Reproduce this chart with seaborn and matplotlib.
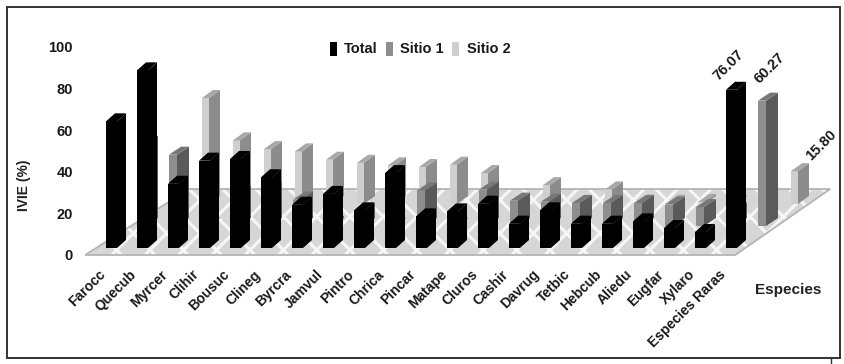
import matplotlib
matplotlib.use("Agg")
import matplotlib.pyplot as plt
import seaborn as sns
import pandas as pd
from matplotlib.patches import Polygon, Rectangle, Patch
from matplotlib.transforms import IdentityTransform, ScaledTranslation

especies = ["Farocc", "Quecub", "Myrcer", "Clihir", "Bousuc", "Clineg", "Byrcra",
            "Jamvul", "Pintro", "Chrica", "Pincar", "Matape", "Cluros", "Cashir",
            "Davrug", "Tetbic", "Hebcub", "Aliedu", "Eugfar", "Xylaro", "Especies Raras"]
total = [60.9, 85.4, 30.9, 42.0, 42.8, 34.0, 20.8, 26.0, 18.1, 36.0, 15.2, 17.6,
         21.3, 11.7, 18.1, 11.7, 11.7, 12.8, 9.6, 7.7, 76.07]
sitio1 = [39.5, 34.3, 0.3, 15.6, 17.5, 12.7, 1.0, 7.4, 0.3, 17.1, 0.3, 17.5,
          12.2, 11.7, 11.1, 11.1, 11.1, 10.3, 9.1, 7.5, 60.27]
sitio2 = [21.4, 51.0, 30.6, 26.4, 25.3, 21.3, 19.8, 18.6, 17.8, 18.9, 14.9, 0.1,
          9.1, 0.0, 7.0, 0.6, 0.6, 1.0, 0.5, 0.2, 15.80]
yticks = [0, 20, 40, 60, 80, 100]
ylabel = "IVIE (%)"
xlabel = "Especies"

# name, values, front colour, side colour, top colour, dx, dy, front w, side w, label dx, label dy
rows = [
    ("Sitio 2", sitio2, "#cfcfcf", "#8c8c8c", "#a8a8a8", 65, 51, 7, 11, 22, 8),
    ("Sitio 1", sitio1, "#8e8e8e", "#5a5a5a", "#777777", 32, 29, 8, 12, 4, 15),
    ("Total", total, "#000000", "#000000", "#000000", 0, 7, 11, 9, -6, 7),
]

W, H = 844, 364
plt.rcParams["font.family"] = ["Liberation Sans", "DejaVu Sans"]
plt.rcParams["hatch.linewidth"] = 2.2
fig = plt.figure(figsize=(W / 100, H / 100), dpi=100)
ax = fig.add_axes([111.5 / W - 31 * 0.88 / W, (H - 255) / H, 31 * 21.0 / W, 208 / H])

df = pd.DataFrame({"especie": especies, "Total": total, "Sitio 1": sitio1, "Sitio 2": sitio2})


def px(x, y):
    return ax.transData.transform((x, y))


def add_poly(points, **kw):
    p = Polygon(points, closed=True, transform=IdentityTransform(), clip_on=False, **kw)
    ax.add_patch(p)
    return p


for k, (name, vals, front, side, top, dx, dy, fw, sw, lx, ly) in enumerate(rows):
    before = len(ax.patches)
    sns.barplot(data=df, x="especie", y=name, ax=ax, color=front, saturation=1,
                width=11 / 31, errorbar=None, zorder=3 + k)
    bars = ax.patches[before:]
    ax.set_xlim(-0.88, 20.12)
    ax.set_ylim(0, 100)
    fig.canvas.draw()
    for bar in bars:
        x0, y0 = px(bar.get_x(), 0)
        _, y1 = px(bar.get_x(), bar.get_height())
        x0, y0, y1 = x0 + dx, y0 + dy, y1 + dy
        x1 = x0 + fw
        bar.set_visible(False)
        z = 3 + k
        add_poly([(x0, y0), (x1, y0), (x1, y1), (x0, y1)], facecolor=front, edgecolor="none", zorder=z)
        add_poly([(x1, y0), (x1 + sw, y0 + 8), (x1 + sw, y1 + 8), (x1, y1)],
                 facecolor=side, edgecolor="none", zorder=z)
        add_poly([(x0, y1), (x1, y1), (x1 + sw, y1 + 8), (x0 + sw, y1 + 8)],
                 facecolor=top, edgecolor="none", zorder=z)

# floor of the chart
fx0, fy0 = px(-0.85, 0)
fx1, _ = px(20.12, 0)
floor = [(fx0, fy0), (fx1, fy0), (fx1 + 95, fy0 + 66), (fx0 + 104, fy0 + 66)]
add_poly(floor, facecolor="#d6d6d6", edgecolor="#f6f6f6", hatch="x", linewidth=0, zorder=1)
add_poly(floor, facecolor="none", edgecolor="#b4b4b4", linewidth=1.3, zorder=2)

# rotated values over the rare species bars
for name, vals, front, side, top, dx, dy, fw, sw, lx, ly in rows:
    v = vals[-1]
    x, y = px(20, v)
    ax.annotate(f"{v:.2f}", xy=(x - 5.5 + dx + lx, y + dy + ly), xycoords="figure pixels",
                rotation=45, ha="left", va="bottom", fontsize=10.5, fontweight="bold",
                color="#1a1a1a", rotation_mode="anchor", zorder=10)

sns.despine(ax=ax, left=True, bottom=True)
ax.patch.set_visible(False)
ax.set_yticks(yticks)
ax.set_xticks(range(len(especies)))
ax.set_xticklabels(especies, rotation=45, ha="right", rotation_mode="anchor",
                   fontsize=10, fontweight="bold", color="#1a1a1a")
ax.tick_params(axis="both", length=0)
ax.tick_params(axis="x", pad=9)
ax.tick_params(axis="y", pad=8)
# the tick labels sit further left than their ticks
shift = ScaledTranslation(-13 / 100, 0, fig.dpi_scale_trans)
for t in ax.get_xticklabels():
    t.set_transform(t.get_transform() + shift)
for t in ax.get_yticklabels():
    t.set_fontsize(10.5)
    t.set_fontweight("bold")
    t.set_color("#1a1a1a")
ax.set_xlabel("")
ax.set_ylabel(ylabel, fontsize=10, fontweight="bold", color="#222222")
ax.yaxis.set_label_coords(-0.082, 0.335)
fig.text(755 / W, 1 - 290 / H, xlabel, fontsize=11, fontweight="bold", color="#222222", va="center")

handles = [Patch(facecolor=r[2], label=r[0]) for r in rows[::-1]]
fig.legend(handles=handles, ncols=3, loc="center", bbox_to_anchor=(420 / W, 1 - 49 / H), frameon=False,
           handlelength=0.5, handleheight=1.1, handletextpad=0.5, columnspacing=0.55,
           prop={"size": 10.5, "weight": "bold"}, labelcolor="#1a1a1a")

# outer frame
fig.add_artist(Rectangle((6.5 / W, 1 - 358 / H), 833.5 / W, 351 / H, transform=fig.transFigure,
                         fill=False, edgecolor="#333333", linewidth=1.4))
fig.add_artist(plt.Line2D([831 / W, 831 / W], [1 - 358 / H, 1 - 364 / H], color="#333333", linewidth=1))

fig.savefig("out.png", dpi=100)
